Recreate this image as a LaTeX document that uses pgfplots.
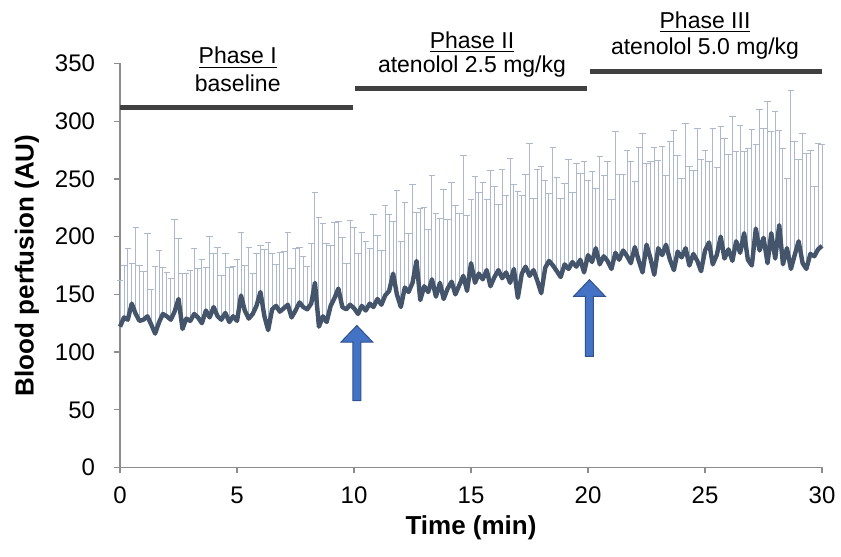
\documentclass[border=0pt]{standalone}
\usepackage{fontspec}
\setmainfont{Liberation Sans}
\usepackage{pgfplots}
\pgfplotsset{compat=1.18}
\usepackage{pgfplotstable}

\definecolor{meanc}{HTML}{44546A}
\definecolor{errc}{HTML}{ADB9CA}
\definecolor{phasec}{HTML}{404040}
\definecolor{axc}{HTML}{8C8C8C}
\definecolor{arrf}{HTML}{4472C4}
\definecolor{arrd}{HTML}{2F528F}

% t (min)  mean  upper error
\pgfplotstableread{
t m e
0.00 122 40
0.17 130 45
0.33 128 62
0.50 142 35
0.67 133 75
0.83 127 48
1.00 128 42
1.17 131 72
1.33 124 30
1.50 116 58
1.67 126 62
1.83 133 40
2.00 131 38
2.17 128 36
2.33 135 80
2.50 146 52
2.67 120 48
2.83 129 39
3.00 127 44
3.17 133 57
3.33 130 42
3.50 125 55
3.67 136 37
3.83 130 70
4.00 139 46
4.17 131 60
4.33 128 38
4.50 134 51
4.67 126 47
4.83 131 43
5.00 127 53
5.17 149 55
5.33 136 39
5.50 129 62
5.67 133 35
5.83 140 45
6.00 152 40
6.17 131 58
6.33 119 76
6.50 137 48
6.67 140 36
6.83 135 51
7.00 138 49
7.17 141 63
7.33 130 42
7.50 136 54
7.67 143 48
7.83 139 44
8.00 137 37
8.17 142 52
8.33 160 78
8.50 122 95
8.67 131 80
8.83 126 68
9.00 140 52
9.17 147 65
9.33 155 58
9.50 139 60
9.67 137 40
9.83 141 73
10.00 138 70
10.17 133 52
10.33 140 64
10.50 136 60
10.67 142 48
10.83 139 80
11.00 146 55
11.17 141 47
11.33 149 78
11.50 153 66
11.67 168 45
11.83 150 90
12.00 139 57
12.17 156 74
12.33 152 51
12.50 160 85
12.67 179 42
12.83 145 79
13.00 157 68
13.17 152 54
13.33 163 90
13.50 148 72
13.67 160 56
13.83 146 95
14.00 155 60
14.17 161 86
14.33 150 77
14.50 158 62
14.67 166 104
14.83 153 65
15.00 177 55
15.17 160 92
15.33 168 70
15.50 163 84
15.67 171 61
15.83 157 100
16.00 165 78
16.17 171 57
16.33 164 94
16.50 169 67
16.67 160 108
16.83 172 73
17.00 147 92
17.17 168 68
17.33 174 80
17.50 166 115
17.67 171 62
17.83 162 96
18.00 151 110
18.17 173 76
18.33 179 58
18.50 175 102
18.67 170 81
18.83 165 68
19.00 176 70
19.17 172 95
19.33 178 60
19.50 174 89
19.67 180 75
19.83 169 96
20.00 184 65
20.17 178 78
20.33 190 52
20.50 176 93
20.67 183 70
20.83 179 86
21.00 172 60
21.17 186 105
21.33 180 74
21.50 188 66
21.67 183 92
21.83 177 88
22.00 191 57
22.17 179 98
22.33 169 120
22.50 193 70
22.67 181 84
22.83 167 110
23.00 190 76
23.17 184 94
23.33 193 60
23.50 180 102
23.67 171 121
23.83 187 83
24.00 182 68
24.17 190 108
24.33 175 86
24.50 185 72
24.67 179 115
24.83 170 97
25.00 188 87
25.17 195 70
25.33 176 118
25.50 184 76
25.67 200 95
25.83 181 104
26.00 189 82
26.17 179 125
26.33 196 78
26.50 186 110
26.67 203 71
26.83 180 96
27.00 175 118
27.17 207 73
27.33 188 122
27.50 199 95
27.67 177 140
27.83 203 88
28.00 181 127
28.17 210 82
28.33 176 100
28.50 190 60
28.67 172 155
28.83 184 98
29.00 196 71
29.17 177 112
29.33 172 100
29.50 185 90
29.67 183 60
29.83 189 92
30.00 192 88
}\perf

\begin{document}
\begin{tikzpicture}
\begin{axis}[
  scale only axis,
  width=351pt, height=202pt,
  xmin=0, xmax=30, ymin=0, ymax=350,
  xtick={0,5,...,30},
  ytick={0,50,...,350},
  axis x line*=bottom,
  axis y line*=left,
  axis line style={draw=axc, line width=0.6pt},
  tick style={draw=axc, line width=0.6pt},
  tick align=outside,
  major tick length=3pt,
  clip=false,
  every tick label/.append style={font=\fontsize{12}{14}\selectfont, text=black},
  xticklabel shift=3pt,
  yticklabel shift=6pt,
  /pgf/number format/assume math mode=true,
  xlabel={Time (min)},
  ylabel={Blood perfusion (AU)},
  label style={font=\fontsize{13}{15}\selectfont\bfseries},
  xlabel style={at={(axis description cs:0.5,-0.1485)}, anchor=center},
  ylabel style={at={(axis description cs:-0.1325,0.5)}, anchor=center},
]
  \addplot[draw=none, mark=none, forget plot,
    error bars/.cd, y dir=plus, y explicit,
    error bar style={draw=errc, line width=0.5pt},
    error mark=-,
    error mark options={rotate=90, draw=errc, solid, mark size=1.6pt, line width=0.5pt}]
    table[x=t, y=m, y error=e] {\perf};
  \addplot[color=meanc, line width=2.2pt, line join=round, mark=none]
    table[x=t, y=m] {\perf};

  % phase bars
  \draw[phasec, line width=2.6pt] (axis cs:0,311.7) -- (axis cs:9.96,311.7);
  \draw[phasec, line width=2.6pt] (axis cs:10.04,328) -- (axis cs:19.94,328);
  \draw[phasec, line width=2.6pt] (axis cs:20.09,343.4) -- (axis cs:29.99,343.4);
  \tikzset{ph/.style={font=\fontsize{11.5}{13}\selectfont, inner sep=0pt, anchor=center}}
  \node[ph] at (axis cs:5.03,355) {\underline{Phase I}};
  \node[ph] at (axis cs:5.03,332.5) {baseline};
  \node[ph] at (axis cs:15.04,368.5) {\underline{Phase II}};
  \node[ph] at (axis cs:15.04,347) {atenolol 2.5 mg/kg};
  \node[ph] at (axis cs:25,386) {\underline{Phase III}};
  \node[ph] at (axis cs:25,363) {atenolol 5.0 mg/kg};

  % arrows
  \filldraw[fill=arrf, draw=arrd, line width=0.5pt, line join=miter]
    (axis cs:9.95,58) -- (axis cs:9.95,108.6) -- (axis cs:9.44,108.6) --
    (axis cs:10.12,123) -- (axis cs:10.80,108.6) -- (axis cs:10.29,108.6) --
    (axis cs:10.29,58) -- cycle;
  \filldraw[fill=arrf, draw=arrd, line width=0.5pt, line join=miter]
    (axis cs:19.89,96.2) -- (axis cs:19.89,148.2) -- (axis cs:19.38,148.2) --
    (axis cs:20.06,162.7) -- (axis cs:20.74,148.2) -- (axis cs:20.23,148.2) --
    (axis cs:20.23,96.2) -- cycle;

  \coordinate (bl) at (axis cs:-5.13,-77.1);
  \coordinate (tr) at (axis cs:30.81,405);
\end{axis}
\pgfresetboundingbox
\path[use as bounding box] (bl) rectangle (tr);
\end{tikzpicture}
\end{document}
